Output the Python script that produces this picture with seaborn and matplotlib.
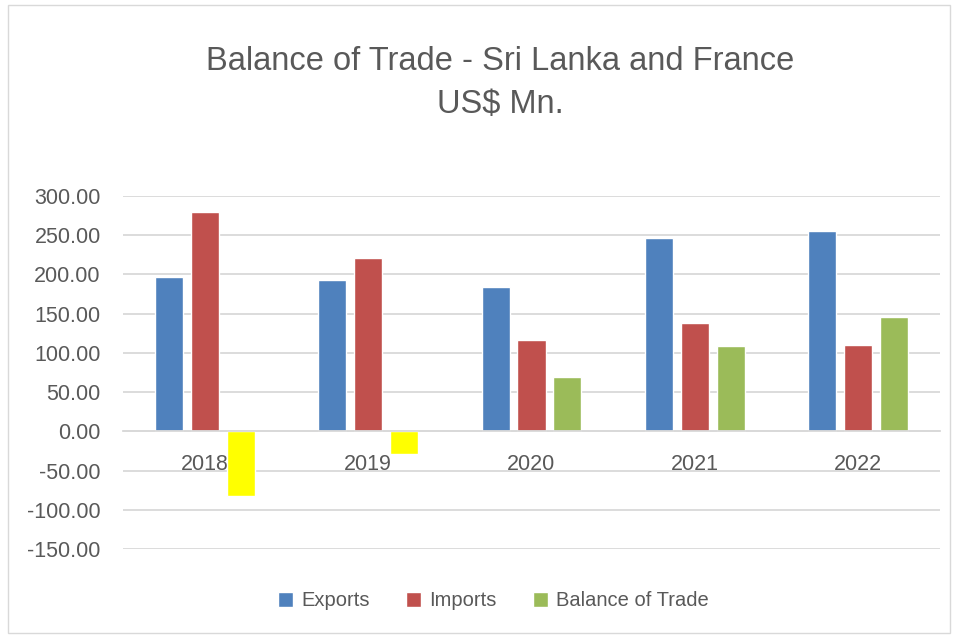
import numpy as np
import pandas as pd
import matplotlib
matplotlib.use("Agg")
import matplotlib.pyplot as plt
import seaborn as sns
from matplotlib.patches import Rectangle, Patch

years = ["2018", "2019", "2020", "2021", "2022"]
exports = [197, 193, 184, 246, 256]
imports = [280, 221, 116, 138, 110]
balance = [-83, -29, 69, 109, 146]
series = ["Exports", "Imports", "Balance of Trade"]
colors = ["#4F81BD", "#C0504D", "#9BBB59"]
neg_color = "#FFFF00"

df = pd.DataFrame({
    "Year": years * 3,
    "Value": exports + imports + balance,
    "Series": [s for s in series for _ in years],
})

sns.set_style("white")
plt.rcParams["font.family"] = ["Liberation Sans", "DejaVu Sans"]
txt = "#595959"

fig = plt.figure(figsize=(9.58, 6.37), dpi=100)
ax = fig.add_axes([123 / 958, 1 - 549 / 637, (940 - 123) / 958, (549 - 196) / 637])

sns.barplot(data=df, x="Year", y="Value", hue="Series", palette=colors,
            width=0.66, gap=0.22, ax=ax, legend=False, saturation=1)

# negative balance shown in yellow
for bar in ax.containers[2]:
    if bar.get_height() < 0:
        bar.set_facecolor(neg_color)

ax.set_ylim(-150, 300)
ax.set_yticks(np.arange(-150, 301, 50))
ax.set_yticklabels([f"{v:.2f}" for v in np.arange(-150, 301, 50)])
ax.grid(axis="y", color="#D9D9D9", linewidth=1.3)
ax.set_axisbelow(True)
for s in ["left", "right", "top"]:
    ax.spines[s].set_visible(False)
ax.spines["bottom"].set_position(("data", 0))
ax.spines["bottom"].set_color("#D9D9D9")
ax.spines["bottom"].set_linewidth(1.3)
ax.tick_params(axis="both", length=0, labelsize=15.5, colors=txt)
ax.tick_params(axis="y", pad=16)
ax.tick_params(axis="x", pad=16)
ax.set_xlabel("")
ax.set_ylabel("")

fig.text(0.522, 1 - 62 / 637, "Balance of Trade - Sri Lanka and France", ha="center",
         va="center", fontsize=23.5, color=txt)
fig.text(0.522, 1 - 104 / 637, "US$ Mn.", ha="center", va="center", fontsize=23.5, color=txt)

handles = [Patch(facecolor=c) for c in colors]
fig.legend(handles, series, loc="center", bbox_to_anchor=(0.515, 1 - 601 / 637), ncol=3,
           frameon=False, fontsize=14.5, labelcolor=txt, handlelength=0.75, handleheight=0.75,
           handletextpad=0.4, columnspacing=1.8)

fig.patches.append(Rectangle((8 / 958, 4 / 637), 942 / 958, 628 / 637, transform=fig.transFigure,
                             fill=False, edgecolor="#D9D9D9", linewidth=1))

fig.savefig("out.png", dpi=100)
